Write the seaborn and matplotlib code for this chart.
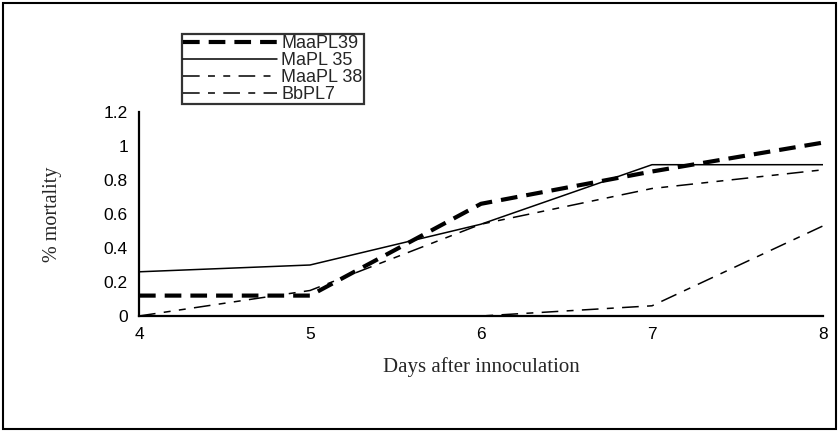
import matplotlib
matplotlib.use("Agg")
import matplotlib.pyplot as plt
import seaborn as sns
import pandas as pd
from matplotlib.patches import Rectangle

days = [4, 5, 6, 7, 8]
maapl39 = [0.12, 0.12, 0.66, 0.85, 1.02]
mapl35 = [0.26, 0.30, 0.54, 0.89, 0.89]
maapl38 = [0.0, 0.15, 0.54, 0.75, 0.86]
bbpl7 = [0.0, 0.0, 0.0, 0.06, 0.53]
labels = ["MaaPL39", "MaPL 35", "MaaPL 38", "BbPL7"]
yticks = [0, 0.2, 0.4, 0.6, 0.8, 1, 1.2]
yticklabels = ["0", "0.2", "0.4", "0.6", "0.8", "1", "1.2"]

sns.set_style("white")
plt.rcParams["font.family"] = ["Liberation Sans", "DejaVu Sans"]
plt.rcParams["lines.scale_dashes"] = False

fig = plt.figure(figsize=(8.39, 4.32), dpi=100)
ax = fig.add_axes([139/839, 1-316/432, (823-139)/839, (316-112)/432])

styles = [
    dict(lw=3.0, dashes=(12, 6.5)),
    dict(lw=1.1, dashes=None),
    dict(lw=1.1, dashes=(12, 6, 5, 6, 5, 6)),
    dict(lw=1.1, dashes=(12, 6, 5, 6)),
]
for vals, lab, st in zip([maapl39, mapl35, maapl38, bbpl7], labels, styles):
    df = pd.DataFrame({"day": days, "val": vals})
    sns.lineplot(data=df, x="day", y="val", ax=ax, color="black", lw=st["lw"], label=lab)
    line = ax.get_lines()[-1]
    if st["dashes"] is not None:
        line.set_dashes(st["dashes"])

ax.set_xlim(4, 8)
ax.set_ylim(0, 1.2)
ax.set_xticks(days)
ax.set_xticklabels([str(d) for d in days])
ax.set_yticks(yticks)
ax.set_yticklabels(yticklabels)
for s in ["top", "right"]:
    ax.spines[s].set_visible(False)
for s in ["left", "bottom"]:
    ax.spines[s].set_linewidth(1.6)
    ax.spines[s].set_color("black")
ax.tick_params(axis="both", direction="inout", length=10, width=1.6, labelsize=12.5, colors="black", pad=3)
ax.set_xlabel("Days after innoculation", family=["Liberation Serif"], fontsize=15, labelpad=11)
ax.set_ylabel("% mortality", family=["Liberation Serif"], fontsize=14.5, labelpad=30)
ax.patch.set_alpha(0)

leg = ax.legend(loc="upper left", bbox_to_anchor=(182/839, 1-34/432), bbox_transform=fig.transFigure,
                frameon=True, fancybox=False, edgecolor="black", fontsize=13,
                handlelength=5.2, handletextpad=0.25, labelspacing=0.0, borderpad=0.05,
                borderaxespad=0)
leg.get_frame().set_linewidth(1.6)

fig.patches.append(Rectangle((3/839, 3/432), 833/839, 426/432, transform=fig.transFigure,
                             fill=False, edgecolor="black", lw=1.5))
fig.savefig("out.png", dpi=100)
